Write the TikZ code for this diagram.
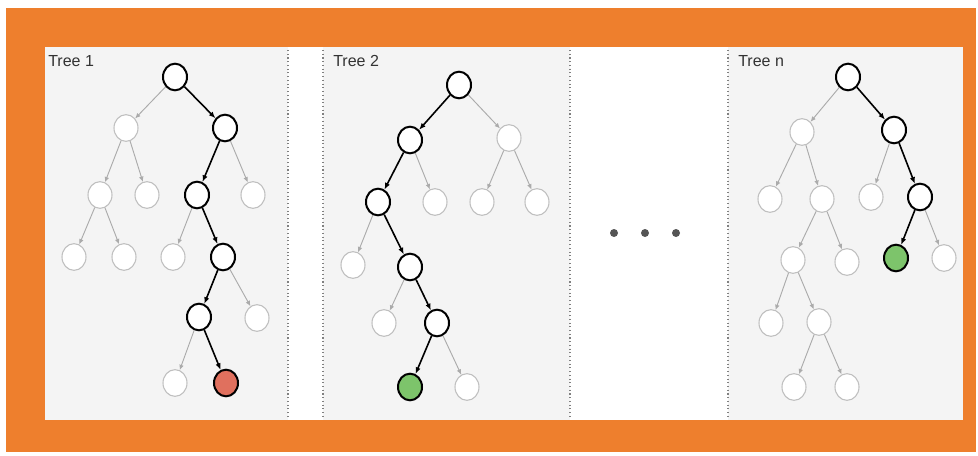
\documentclass[tikz,border=0pt]{standalone}
\usepackage{fontspec}
\setmainfont{Liberation Sans}
\usetikzlibrary{shapes.geometric,arrows.meta}
\definecolor{frameorange}{HTML}{EE7F2D}
\definecolor{panelgray}{HTML}{F4F4F4}
\definecolor{lightline}{HTML}{BFBFBF}
\definecolor{lightedge}{HTML}{ABABAB}
\definecolor{hitred}{HTML}{E0705E}
\definecolor{hitgreen}{HTML}{7DC46B}
\definecolor{dotgray}{HTML}{555555}
\tikzset{
  tnode/.style={ellipse,minimum width=18pt,minimum height=20pt,inner sep=0pt,fill=white,draw=lightline,line width=0.8pt},
  pnode/.style={tnode,draw=black,line width=1.5pt},
  rnode/.style={pnode,fill=hitred},
  gnode/.style={pnode,fill=hitgreen},
  gedge/.style={draw=lightedge,line width=0.7pt,-{Latex[length=4pt,width=3.5pt]}},
  pedge/.style={draw=black,line width=1.2pt,-{Latex[length=5pt,width=4pt]}},
  sep/.style={draw=gray,dotted,line width=0.8pt},
  title/.style={anchor=west,font=\fontsize{12pt}{14pt}\selectfont,text=black!80,inner sep=0pt}
}
\begin{document}
\begin{tikzpicture}[x=0.75pt,y=-0.75pt]
\useasboundingbox (0,0) rectangle (978,456);
\fill[white] (0,0) rectangle (978,456);
\fill[frameorange] (6,8) rectangle (976,452);
\fill[white] (45,47) rectangle (963,420);
\fill[panelgray] (45,47) rectangle (288,420);
\fill[panelgray] (323,47) rectangle (570,420);
\fill[panelgray] (728,47) rectangle (963,420);
\coordinate (s1t) at (288,50); \coordinate (s1b) at (288,418);
\coordinate (s2t) at (323,50); \coordinate (s2b) at (323,418);
\coordinate (s3t) at (570,50); \coordinate (s3b) at (570,418);
\coordinate (s4t) at (728,50); \coordinate (s4b) at (728,418);
\draw[sep] (s1t) -- (s1b);
\draw[sep] (s2t) -- (s2b);
\draw[sep] (s3t) -- (s3b);
\draw[sep] (s4t) -- (s4b);
\node[title] (t1) at (48,61) {Tree 1};
\node[title] (t2) at (333,61) {Tree 2};
\node[title] (tn) at (738,61) {Tree n};
\fill[dotgray] (614,233) circle (3pt) (645,233) circle (3pt) (676,233) circle (3pt);
% Tree 1
\node[pnode] (a0) at (175,77) {};
\node[tnode] (a1) at (126,128) {};
\node[pnode] (a2) at (225,128) {};
\node[tnode] (a3) at (100,195) {};
\node[tnode] (a4) at (147,195) {};
\node[pnode] (a5) at (197,195) {};
\node[tnode] (a6) at (253,195) {};
\node[tnode] (a7) at (74,257) {};
\node[tnode] (a8) at (124,257) {};
\node[tnode] (a9) at (173,257) {};
\node[pnode] (a10) at (223,257) {};
\node[pnode] (a11) at (199,317) {};
\node[tnode] (a12) at (257,318) {};
\node[tnode] (a13) at (175,383) {};
\node[rnode] (a14) at (226,383) {};
\draw[gedge] (a0) -- (a1);
\draw[pedge] (a0) -- (a2);
\draw[gedge] (a1) -- (a3);
\draw[gedge] (a1) -- (a4);
\draw[pedge] (a2) -- (a5);
\draw[gedge] (a2) -- (a6);
\draw[gedge] (a3) -- (a7);
\draw[gedge] (a3) -- (a8);
\draw[gedge] (a5) -- (a9);
\draw[pedge] (a5) -- (a10);
\draw[pedge] (a10) -- (a11);
\draw[gedge] (a10) -- (a12);
\draw[gedge] (a11) -- (a13);
\draw[pedge] (a11) -- (a14);
% Tree 2
\node[pnode] (b0) at (459,85) {};
\node[pnode] (b1) at (410,140) {};
\node[tnode] (b2) at (509,138) {};
\node[pnode] (b3) at (378,202) {};
\node[tnode] (b4) at (435,202) {};
\node[tnode] (b5) at (482,202) {};
\node[tnode] (b6) at (537,202) {};
\node[tnode] (b7) at (353,265) {};
\node[pnode] (b8) at (410,267) {};
\node[tnode] (b9) at (384,323) {};
\node[pnode] (b10) at (437,323) {};
\node[gnode] (b11) at (410,387) {};
\node[tnode] (b12) at (467,387) {};
\draw[pedge] (b0) -- (b1);
\draw[gedge] (b0) -- (b2);
\draw[pedge] (b1) -- (b3);
\draw[gedge] (b1) -- (b4);
\draw[gedge] (b2) -- (b5);
\draw[gedge] (b2) -- (b6);
\draw[gedge] (b3) -- (b7);
\draw[pedge] (b3) -- (b8);
\draw[gedge] (b8) -- (b9);
\draw[pedge] (b8) -- (b10);
\draw[pedge] (b10) -- (b11);
\draw[gedge] (b10) -- (b12);
% Tree n
\node[pnode] (c0) at (848,77) {};
\node[tnode] (c1) at (802,132) {};
\node[pnode] (c2) at (894,130) {};
\node[tnode] (c3) at (770,199) {};
\node[tnode] (c4) at (822,199) {};
\node[tnode] (c5) at (871,197) {};
\node[pnode] (c6) at (920,197) {};
\node[tnode] (c7) at (793,260) {};
\node[tnode] (c8) at (847,262) {};
\node[gnode] (c9) at (896,258) {};
\node[tnode] (c10) at (944,258) {};
\node[tnode] (c11) at (771,323) {};
\node[tnode] (c12) at (819,322) {};
\node[tnode] (c13) at (794,387) {};
\node[tnode] (c14) at (847,387) {};
\draw[gedge] (c0) -- (c1);
\draw[pedge] (c0) -- (c2);
\draw[gedge] (c1) -- (c3);
\draw[gedge] (c1) -- (c4);
\draw[gedge] (c2) -- (c5);
\draw[pedge] (c2) -- (c6);
\draw[gedge] (c4) -- (c7);
\draw[gedge] (c4) -- (c8);
\draw[pedge] (c6) -- (c9);
\draw[gedge] (c6) -- (c10);
\draw[gedge] (c7) -- (c11);
\draw[gedge] (c7) -- (c12);
\draw[gedge] (c12) -- (c13);
\draw[gedge] (c12) -- (c14);
\end{tikzpicture}
\end{document}
